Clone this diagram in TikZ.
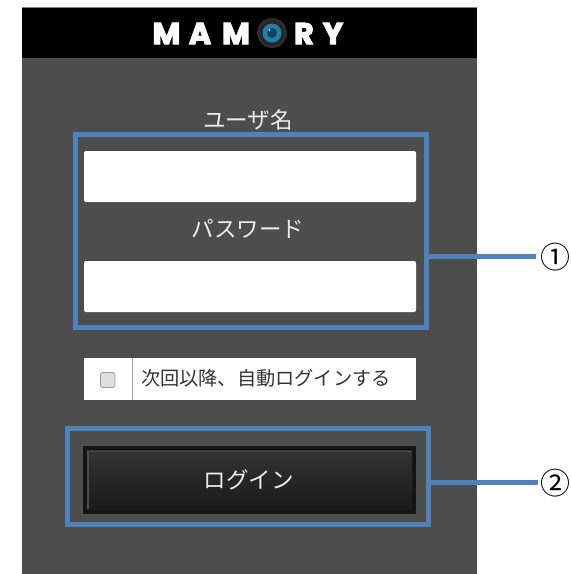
\documentclass[tikz,border=0pt]{standalone}
\usepackage{fontspec}
\setmainfont{Noto Sans CJK JP}
\newfontfamily\logofont[BoldFeatures={FakeBold=4}]{Poppins}
\usetikzlibrary{calc}
\definecolor{panel}{HTML}{4D4D4D}
\definecolor{callout}{HTML}{4F81BD}
\definecolor{labeltext}{HTML}{EDEDED}
\definecolor{lensblue}{HTML}{1F7FA8}
\tikzset{
  x=1pt,y=-1pt,
  field/.style={fill=white,draw=none,rounded corners=2pt},
  calloutbox/.style={draw=callout,line width=5pt,fill=none,inner sep=0,outer sep=0,anchor=center},
  lead/.style={draw=callout,line width=5pt},
  darklabel/.style={text=labeltext,font=\fontsize{22.5}{22.5}\selectfont,inner sep=0},
  logoletter/.style={text=white,font=\logofont\bfseries\fontsize{30}{30}\selectfont,inner sep=0,anchor=center},
  numlabel/.style={text=black,font=\fontsize{30}{30}\selectfont,inner sep=0}
}
\begin{document}
\begin{tikzpicture}
\useasboundingbox (0,0) rectangle (571,574);
\fill[white] (0,0) rectangle (571,574);
% panel and header
\fill[panel] (22,7) rectangle (477,574);
\fill[black] (22,8) rectangle (477,58);
\fill[gray] (22,7) rectangle (477,8);
% logo
\node[logoletter] (l1) at (166.5,33.5) {M};
\node[logoletter] (l2) at (200,33.5) {A};
\node[logoletter] (l3) at (236,33.5) {M};
\fill[black!65!gray] (272,33) circle (15);
\fill[black!85] (272,33) circle (12.5);
\fill[lensblue] (272,33) circle (9.5);
\fill[lensblue!55!black] (272,33) circle (5);
\fill[white!70!lensblue] (269.5,30) circle (1.2);
\node[logoletter] (l4) at (304,33.5) {R};
\node[logoletter] (l5) at (333,33.5) {Y};
% form
\node[darklabel] (user) at (248,120) {ユーザ名};
\fill[field] (84,151) rectangle (416,202);
\node[darklabel] (pass) at (248,229) {パスワード};
\fill[field] (84,261) rectangle (416,312);
% auto login row
\fill[white] (84,358) rectangle (416,400);
\draw[gray!70,line width=0.8pt] (132.5,358) -- (132.5,400);
\draw[gray!80,fill=gray!25,line width=0.8pt,rounded corners=2.5pt] (100.5,372.5) rectangle (115,387.5);
\node[text=black!80,font=\fontsize{19.2}{19.2}\selectfont,inner sep=0,anchor=west] (auto) at (141,378.5) {次回以降、自動ログインする};
% button
\fill[black!92] (83,446) rectangle (416,514);
\shade[top color=black!80,bottom color=black!90] (87,450) rectangle (412,510);
\draw[gray!60!black,line width=1.2pt] (88,509) -- (88,451.5) -- (411,451.5);
\node[darklabel] (login) at (248.5,480) {ログイン};
% callout frames
\node[calloutbox,minimum width=351pt,minimum height=193.5pt] (box1) at (250.5,230.75) {};
\node[calloutbox,minimum width=360.5pt,minimum height=96.5pt] (box2) at (247.75,476.25) {};
% numbers and connectors
\coordinate (end1) at (536,256);
\coordinate (end2) at (538,482);
\node[numlabel] (n1) at (555,257) {①};
\node[numlabel] (n2) at (555.5,483) {②};
\draw[lead] (end1 -| box1.east) -- (end1);
\draw[lead] (end2 -| box2.east) -- (end2);
\end{tikzpicture}
\end{document}
